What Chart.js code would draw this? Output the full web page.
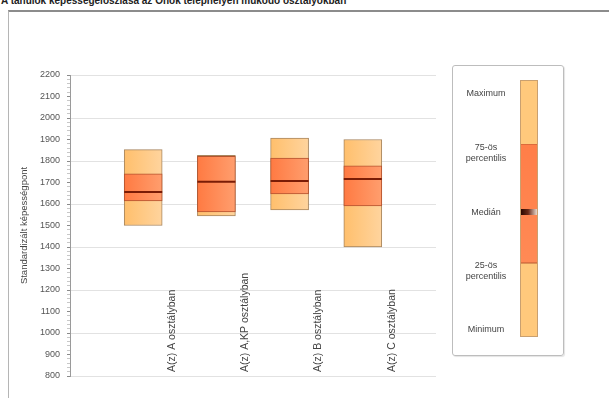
<!DOCTYPE html>
<html>
<head>
<meta charset="utf-8">
<script src="https://cdn.jsdelivr.net/npm/chart.js@4/dist/chart.umd.min.js"></script>
<style>
    html, body { margin: 0; padding: 0; background: #fff; overflow: hidden; }
    body { width: 609px; height: 398px; position: relative; font-family: "Liberation Sans", Arial, sans-serif; }
    .title { position: absolute; left: 1px; top: -5px; font-size: 10px; font-weight: bold; color: #222; white-space: nowrap; }
    .frame { position: absolute; left: 8px; top: 10px; width: 620px; height: 400px; border-top: 2px solid #8c8c8c; border-left: 1px solid #b5b5b5; }
    #wrap { position: absolute; left: 0; top: 0; width: 609px; height: 398px; }
    .legend { position: absolute; left: 452px; top: 65px; width: 110px; height: 289px; border: 1px solid #bdbdbd; border-radius: 3px; box-shadow: 1px 1px 1px #e4e4e4; }
    .legend .lbl { position: absolute; left: 0; width: 66px; text-align: center; font-size: 9px; line-height: 11px; color: #444; }
    .legend .bar { position: absolute; left: 67px; top: 14px; width: 18px; height: 257px; border: 1px solid #c9a070; box-sizing: border-box;
        background: linear-gradient(to bottom, #ffc97c 0, #ffc97c 63px, #b8572f 63px, #ff7e48 64px, #ff8a55 181px, #b8572f 182px, #ffc97c 183px, #ffc97c 100%); }
    .legend .med { position: absolute; left: 68px; top: 143px; width: 16px; height: 6px; background: linear-gradient(to right, #2a0800, #6a2a18 45%, #e8d8cc); }
</style>
</head>
<body>
<div class="title">A tanulók képességeloszlása az Önök telephelyén működő osztályokban</div>
<div class="frame"></div>
<div id="wrap"><canvas id="boxChart"></canvas></div>
<div class="legend">
    <div class="bar"></div>
    <div class="med"></div>
    <div class="lbl" style="top: 22px;">Maximum</div>
    <div class="lbl" style="top: 76px;">75-ös<br>percentilis</div>
    <div class="lbl" style="top: 141px;">Medián</div>
    <div class="lbl" style="top: 194px;">25-ös<br>percentilis</div>
    <div class="lbl" style="top: 258px;">Minimum</div>
</div>
<script>
// osztályok és képességpont-eloszlás
const categories = ['A(z) A osztályban', 'A(z) A,KP osztályban', 'A(z) B osztályban', 'A(z) C osztályban'];
const minimum = [1500, 1545, 1572, 1400];
const perc25 = [1614, 1563, 1647, 1591];
const median = [1656, 1703, 1707, 1716];
const perc75 = [1740, 1822, 1814, 1777];
const maximum = [1853, 1826, 1907, 1900];
const yTicks = { min: 800, max: 2200, step: 100 };

function barGradient(context, left, right) {
    const chart = context.chart;
    const xs = chart.scales.x;
    if (!chart.chartArea || !xs) return left;
    const cx = xs.getPixelForValue(context.dataIndex + 1);
    const g = chart.ctx.createLinearGradient(cx - 19, 0, cx + 19, 0);
    g.addColorStop(0, left);
    g.addColorStop(1, right);
    return g;
}

const categoryLabels = {
    id: 'categoryLabels',
    afterDatasetsDraw(chart) {
        const { ctx, chartArea, scales } = chart;
        ctx.save();
        ctx.font = '10.5px "Liberation Sans", Arial, sans-serif';
        ctx.fillStyle = '#444';
        ctx.textAlign = 'left';
        ctx.textBaseline = 'middle';
        categories.forEach((c, i) => {
            ctx.save();
            ctx.translate(scales.x.getPixelForValue(i + 1) + 29, chartArea.bottom - 4);
            ctx.rotate(-Math.PI / 2);
            ctx.fillText(c, 0, 0);
            ctx.restore();
        });
        ctx.restore();
    }
};

const toPoints = (arr) => arr.map((v, i) => ({ x: i + 1, y: v }));

new Chart(document.getElementById('boxChart'), {
    type: 'bar',
    data: {
        datasets: [
            {
                label: 'Minimum - Maximum',
                data: categories.map((c, i) => ({ x: i + 1, y: [minimum[i], maximum[i]] })),
                backgroundColor: (c) => barGradient(c, '#ffbf6c', '#ffd49e'),
                borderColor: '#a8865e',
                borderWidth: 1,
                borderSkipped: false,
                barThickness: 38,
                grouped: false,
                order: 3,
            },
            {
                label: '25-75 percentilis',
                data: categories.map((c, i) => ({ x: i + 1, y: [perc25[i], perc75[i]] })),
                backgroundColor: (c) => barGradient(c, '#ff7a42', '#ff9e6e'),
                borderColor: '#b4532e',
                borderWidth: 1,
                borderSkipped: false,
                barThickness: 38,
                grouped: false,
                order: 2,
            },
            {
                type: 'line',
                label: 'Medián',
                data: toPoints(median),
                showLine: false,
                pointStyle: 'line',
                pointRadius: 19,
                pointHoverRadius: 19,
                pointBorderWidth: 2,
                borderColor: '#7a1c06',
                order: 1,
            },
        ],
    },
    options: {
        responsive: true,
        maintainAspectRatio: false,
        animation: false,
        layout: { padding: { top: 75, right: 173, bottom: 22, left: 0 } },
        plugins: { legend: { display: false }, tooltip: { enabled: false } },
        scales: {
            x: { type: 'linear', min: 0, max: 5, offset: false, display: false },
            y: {
                min: yTicks.min,
                max: yTicks.max,
                afterFit: (s) => { s.width = 70; },
                afterBuildTicks: (s) => {
                    const t = [];
                    for (let v = yTicks.min; v <= yTicks.max; v += 20) t.push({ value: v });
                    s.ticks = t;
                },
                ticks: {
                    autoSkip: false,
                    padding: 7,
                    color: '#555',
                    font: { size: 9, family: '"Liberation Sans", Arial, sans-serif' },
                    callback: (v) => (v % yTicks.step === 0 ? v : ''),
                },
                grid: {
                    tickLength: 3,
                    color: (c) => (c.tick && c.tick.value % 200 === 0 ? '#e2e2e2' : 'rgba(0,0,0,0)'),
                    tickColor: (c) => (c.tick && c.tick.value % 100 === 0 ? '#8a8a8a' : '#c8c8c8'),
                },
                border: { color: '#9a9a9a' },
                title: {
                    display: true,
                    text: 'Standardizált képességpont',
                    color: '#444',
                    font: { size: 9.5, family: '"Liberation Sans", Arial, sans-serif' },
                    padding: { top: 19, bottom: 0 },
                },
            },
        },
    },
    plugins: [categoryLabels],
});
</script>
</body>
</html>
